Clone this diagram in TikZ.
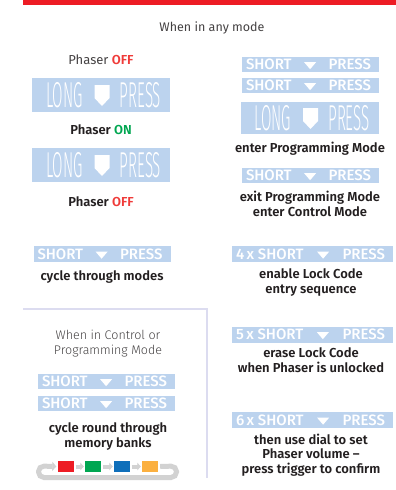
\documentclass[tikz,border=0pt]{standalone}
\usepackage{fontspec}
\setmainfont{Fira Sans}
\newfontfamily\firalight{Fira Sans Light}
\newfontfamily\firamedium{Fira Sans Medium}
\newfontfamily\firasemi{Fira Sans SemiBold}
\usetikzlibrary{arrows.meta}

\definecolor{barblue}{HTML}{BCD3EE}
\definecolor{topred}{HTML}{ED1C24}
\definecolor{offred}{HTML}{EF3B39}
\definecolor{ongreen}{HTML}{00A650}
\definecolor{txt}{HTML}{231F20}
\definecolor{rule}{HTML}{DCDCF0}
\definecolor{loopgray}{HTML}{D2D2D2}
\definecolor{bankred}{HTML}{ED1C24}
\definecolor{bankgreen}{HTML}{00A651}
\definecolor{bankblue}{HTML}{0F6FBA}
\definecolor{bankorange}{HTML}{FBB040}

% small white triangle of the short-press bars
\newcommand{\tri}{\tikz[baseline=0pt]\fill[white] (0,7.5pt)--(12pt,7.5pt)--(6pt,0.5pt)--cycle;}
\newcommand{\shortpress}[2][]{\makebox[#2]{#1SHORT\hfill\tri\hfill PRESS\hspace{4pt}}}
\newcommand{\longword}[1]{\scalebox{0.42}[1]{#1}}

\begin{document}
\begin{tikzpicture}[x=1pt,y=-1pt,
    caption/.style={font=\firasemi\fontsize{13}{14.5}\selectfont, text=txt, align=center, inner sep=0pt},
    note/.style={font=\firalight\fontsize{12.5}{14.5}\selectfont, text=txt!85, align=center, inner sep=0pt},
    bar/.style={fill=barblue, text=white, inner sep=0pt, minimum height=15.5pt, font=\firamedium\fontsize{15}{15}\selectfont},
    longbar/.style={fill=barblue, inner sep=0pt, minimum width=138pt},
    longtxt/.style={text=white, inner sep=0pt, font=\firalight\fontsize{36}{36}\selectfont},
    bank/.style={minimum width=16pt, minimum height=11.5pt, inner sep=0pt},
    bankarrow/.style={loopgray, line width=4pt, -{Triangle[length=3.5pt,width=7.5pt]}, shorten <=1.5pt, shorten >=1pt},
    sep/.style={rule, line width=2.5pt}]
  \useasboundingbox (0,0) rectangle (396,490);
  \fill[topred] (23,0) rectangle (396,4.5);

  \node[font=\fontsize{12.5}{14.5}\selectfont, text=txt!85, inner sep=0pt] (anymode) at (212,28) {When in any mode};

  % left column: long presses
  \node[font=\fontsize{13}{14.5}\selectfont, text=txt!85, inner sep=0pt] (offA) at (101,60) {Phaser {\firasemi\textcolor{offred}{OFF}}};
  \foreach \n/\x/\y/\h in {longA/101/95/34, longB/101/165/34, longC/309.5/118/32} {
    \node[longbar, minimum height=\h pt] (\n) at (\x,\y) {};
    \node[longtxt] at ([xshift=-36.5pt]\n.center) {\longword{LONG}};
    \node[longtxt] at ([xshift=39.5pt]\n.center) {\longword{PRESS}};
    \fill[white, shift={(\n.center)}] (-6.5,-10) -- (8.5,-10) -- (8.5,3) -- (1,11) -- (-6.5,3) -- cycle;
  }
  \node[caption] (on) at (101,130) {Phaser \textcolor{ongreen}{ON}};
  \node[caption] (offB) at (101,202) {Phaser \textcolor{offred}{OFF}};

  % short presses
  \foreach \n/\x/\y in {shortA/310.5/64.5, shortB/310.5/85.5, shortC/310.5/175.5,
      shortD/102/254, shortE/106.5/381.5, shortF/106.5/403.5}
    \node[bar, minimum width=137pt] (\n) at (\x,\y) {\shortpress{129pt}};
  \foreach \n/\k/\y in {lockA/4/254, lockB/5/334.5, lockC/6/420}
    \node[bar, minimum width=161pt, minimum height=16pt] (\n) at (312.5,\y) {\shortpress[\k\,x ]{153pt}};

  \node[caption] (enterprog) at (310,149) {enter Programming Mode};
  \node[caption] (exitprog) at (310,204) {exit Programming Mode\\enter Control Mode};
  \node[caption] (modes) at (102,277) {cycle through modes};
  \node[caption] (lockon) at (311,282.5) {enable Lock Code\\entry sequence};
  \node[caption] (lockoff) at (311,360) {erase Lock Code\\when Phaser is unlocked};
  \node[caption] (volume) at (311,455) {then use dial to set\\Phaser volume –\\press trigger to confirm};

  % lower left box
  \draw[sep] (23,309) -- (207,309) -- (207,478);
  \node[note] (ctrlnote) at (108,343.5) {When in Control or\\Programming Mode};
  \node[caption] (banks) at (108,436.5) {cycle round through\\memory banks};

  % memory banks
  \foreach \n/\c/\x in {bankR/bankred/66, bankG/bankgreen/93, bankB/bankblue/122, bankO/bankorange/150}
    \node[bank, fill=\c] (\n) at (\x,466.5) {};
  \draw[bankarrow] (bankR) -- (bankG);
  \draw[bankarrow] (bankG) -- (bankB);
  \draw[bankarrow] (bankB) -- (bankO);
  \draw[loopgray, line width=5pt, rounded corners=5.5pt, -{Triangle[length=4pt,width=9pt]}]
    ([xshift=2pt]bankO.east) -- (176.5,466) -- (176.5,477.5) -- (38.5,477.5) -- (38.5,466) -- ([xshift=-1.5pt]bankR.west);
\end{tikzpicture}
\end{document}
